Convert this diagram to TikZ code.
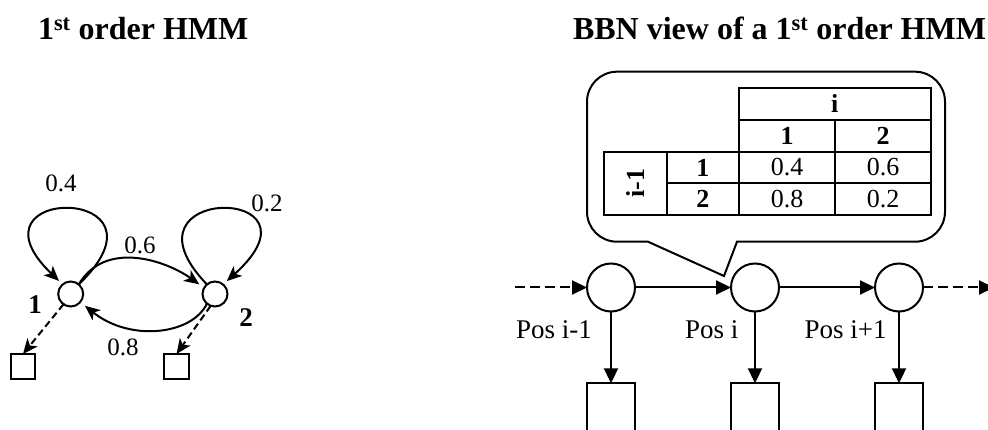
\documentclass[tikz,border=0pt]{standalone}
\usepackage{fontspec}
\setmainfont{Liberation Serif}
\usetikzlibrary{arrows.meta}
\begin{document}
\begin{tikzpicture}[x=1pt,y=-1pt,
  every node/.style={inner sep=0pt,outer sep=0pt},
  lw/.style={line width=2pt},
  hmmstate/.style={circle,draw,lw,minimum size=25pt},
  hmmobs/.style={rectangle,draw,lw,minimum size=24.6pt},
  bbnstate/.style={circle,draw,lw,minimum size=48pt},
  bbnobs/.style={rectangle,draw,lw,minimum width=48pt,minimum height=100pt},
  cellbox/.style 2 args={rectangle,draw,lw,minimum width=#1,minimum height=#2,font=\fontsize{26}{30}\selectfont},
  ttl/.style={anchor=base west,font=\fontsize{32}{38}\selectfont\bfseries},
  prob/.style={font=\fontsize{25}{30}\selectfont},
  statelbl/.style={font=\fontsize{27}{30}\selectfont\bfseries},
  poslbl/.style={font=\fontsize{27}{32}\selectfont},
  hmmarrow/.style={lw,-{Stealth[length=15pt,width=13pt,inset=4pt]}},
  bbnarrow/.style={lw,-{Triangle[length=15pt,width=14pt]}},
  hmmdash/.style={hmmarrow,dash pattern=on 7pt off 4pt},
  bbndash/.style={bbnarrow,dash pattern=on 10pt off 5pt}
]
\useasboundingbox (0,0) rectangle (988,430);
\clip (0,0) rectangle (988,430);

% titles
\node[ttl] (t1) at (38,40) {1\textsuperscript{st} order HMM};
\node[ttl] (t2) at (573,40) {BBN view of a 1\textsuperscript{st} order HMM};

% ---------- left: HMM ----------
\node[hmmstate] (c1) at (70.7,294) {};
\node[hmmstate] (c2) at (215,294) {};
\node[hmmobs] (s1) at (23,366.3) {};
\node[hmmobs] (s2) at (176.5,366.3) {};
\node[statelbl] (l1) at (35,305) {1};
\node[statelbl] (l2) at (246,318) {2};

\draw[hmmarrow,shorten >=5pt] (c1.50) .. controls (183,184) and (-42,184) .. (c1.130);
\draw[hmmarrow,shorten >=5pt] (c2.130) .. controls (110,184) and (335,184) .. (c2.50);
\draw[hmmarrow,shorten >=6pt] (c1.50) .. controls (105,240) and (165,260) .. (c2.150);
\draw[hmmarrow,shorten >=6pt] (c2.230) .. controls (192,335) and (130,342) .. (c1.-40);
\draw[hmmdash] (c1.235) -- (s1.north);
\draw[hmmdash] (c2.250) -- (s2.north);

\node[prob] (p04) at (61,183.6) {0.4};
\node[prob] (p02) at (267,203) {0.2};
\node[prob] (p06) at (140,245) {0.6};
\node[prob] (p08) at (123,347) {0.8};

% ---------- right: BBN ----------
\draw[lw] (648,241.7) -- (617,241.7) arc[start angle=270,end angle=180,radius=30pt]
  -- (587,101.7) arc[start angle=180,end angle=90,radius=30pt]
  -- (915,71.7) arc[start angle=90,end angle=0,radius=30pt]
  -- (945,211.7) arc[start angle=0,end angle=-90,radius=30pt]
  -- (737,241.7) -- (724,276) -- cycle;

\node[cellbox={191.7pt}{32.3pt}] (hi) at (834.85,103.85) {\textbf{i}};
\node[cellbox={96.3pt}{31.7pt}] (h1) at (787.15,135.85) {\textbf{1}};
\node[cellbox={95.4pt}{31.7pt}] (h2) at (883,135.85) {\textbf{2}};
\node[cellbox={62.4pt}{63.3pt}] (rl) at (635.5,183.35) {\rotatebox{90}{\textbf{i-1}}};
\node[cellbox={72.3pt}{31.6pt}] (r1) at (702.85,167.5) {\textbf{1}};
\node[cellbox={72.3pt}{31.7pt}] (r2) at (702.85,199.15) {\textbf{2}};
\node[cellbox={96.3pt}{31.6pt}] (v11) at (787.15,167.5) {0.4};
\node[cellbox={95.4pt}{31.6pt}] (v12) at (883,167.5) {0.6};
\node[cellbox={96.3pt}{31.7pt}] (v21) at (787.15,199.15) {0.8};
\node[cellbox={95.4pt}{31.7pt}] (v22) at (883,199.15) {0.2};

\node[bbnstate] (A) at (611,287.5) {};
\node[bbnstate] (B) at (755,287.5) {};
\node[bbnstate] (C) at (899,287.5) {};
\node[bbnobs] (oa) at (611,433.3) {};
\node[bbnobs] (ob) at (755,433.3) {};
\node[bbnobs] (oc) at (899,433.3) {};
\coordinate (in) at (515,287.5);
\coordinate (out) at (994,287.5);

\draw[bbndash] (in) -- (A.west);
\draw[bbnarrow] (A.east) -- (B.west);
\draw[bbnarrow] (B.east) -- (C.west);
\draw[bbndash] (C.east) -- (out);
\draw[bbnarrow] (A.south) -- (oa.north);
\draw[bbnarrow] (B.south) -- (ob.north);
\draw[bbnarrow] (C.south) -- (oc.north);

\node[poslbl] (pa) at (554,330) {Pos i-1};
\node[poslbl] (pb) at (711.7,330) {Pos i};
\node[poslbl] (pc) at (845.7,330) {Pos i+1};
\end{tikzpicture}
\end{document}
